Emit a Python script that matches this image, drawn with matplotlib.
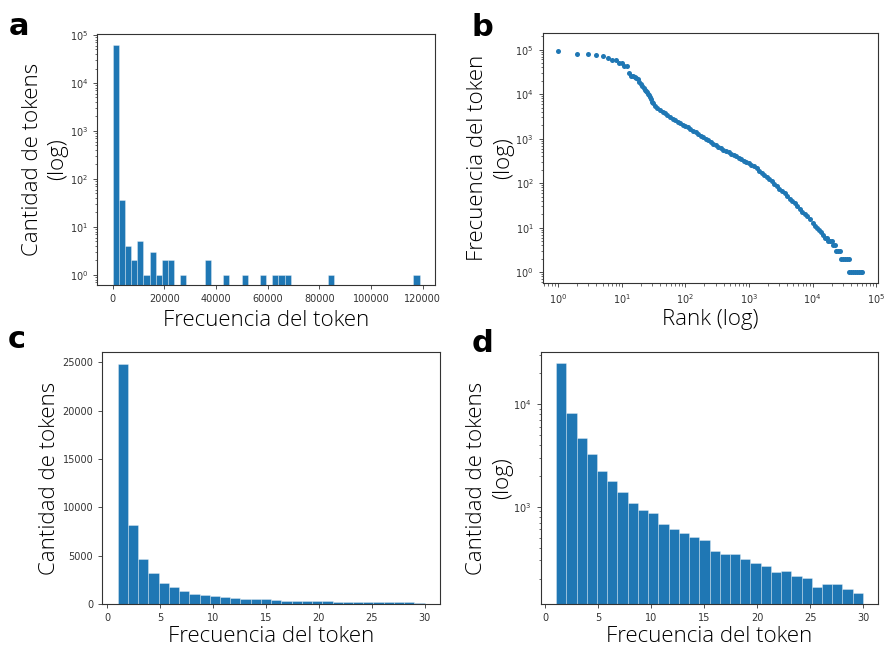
import numpy as np
import matplotlib
matplotlib.use("Agg")
import matplotlib.pyplot as plt

# ----
# Data
# ----
# a: histogram of token frequencies (50 bins between 1 and ~118850), log counts
hist_a_lo = 1
hist_a_hi = 118850
hist_a_counts = [62000, 36, 4, 2, 5, 1, 3, 1, 2, 2,
                 0, 1, 0, 0, 0, 2, 0, 0, 1, 0,
                 0, 1, 0, 0, 1, 0, 1, 1, 1, 0,
                 0, 0, 0, 0, 0, 1, 0, 0, 0, 0,
                 0, 0, 0, 0, 0, 0, 0, 0, 0, 1]

# b: rank / frequency (log-log)
rank = [1, 2, 3, 4, 5, 6, 7, 8, 9, 10,
        11, 12, 13, 14, 15, 16, 17, 18, 19, 20,
        21, 22, 23, 24, 25, 26, 27, 28, 29, 30,
        31, 33, 36, 40, 44, 48, 52, 58, 63, 69,
        76, 83, 91, 100, 110, 120, 132, 145, 158, 174,
        191, 209, 229, 251, 275, 302, 331, 363, 398, 437,
        479, 525, 575, 631, 692, 759, 832, 912, 1000, 1096,
        1202, 1318, 1445, 1585, 1738, 1905, 2089, 2291, 2512, 2754,
        3020, 3311, 3631, 3981, 4365, 4786, 5248, 5754, 6310, 6918,
        7586, 8318, 9120, 10000, 10965, 11750, 12590, 13490, 14450, 15490,
        16600, 17780, 19050, 20420, 21380, 22390, 23440, 25120, 26920, 28180,
        30200, 32360, 34670, 37150, 38000, 40740, 43650, 46770, 50120, 53700,
        57540, 59000]
freq = [93000, 79000, 79000, 74000, 71000, 66000, 59000, 59000, 51000, 51000,
        43000, 42000, 30000, 26000, 25000, 24000, 23000, 22000, 19000, 17000,
        15000, 13500, 12500, 11800, 11200, 10000, 9400, 8700, 7600, 6700,
        6200, 5400, 4900, 4450, 4070, 3720, 3310, 3020, 2720, 2570,
        2370, 2210, 2070, 1930, 1780, 1620, 1500, 1380, 1260, 1160,
        1070, 980, 910, 830, 775, 715, 660, 615, 570, 530,
        495, 460, 430, 400, 373, 347, 321, 298, 277, 257,
        239, 215, 192, 172, 153, 137, 122, 109, 96, 85,
        75, 66, 59, 52, 45, 40, 35, 30, 26, 23,
        20, 18, 16, 13, 11, 10, 9, 8, 7, 6,
        6, 5, 5, 5, 4, 4, 3, 3, 3, 2,
        2, 2, 2, 2, 1, 1, 1, 1, 1, 1,
        1, 1]

# c / d: histogram of frequencies 1..30 (30 bins)
hist_cd_lo = 1
hist_cd_hi = 30
hist_cd_counts = [24850, 8180, 4670, 3240, 2210, 1766, 1380, 1086, 935, 861,
                  677, 606, 550, 502, 470, 370, 343, 343, 312, 281,
                  264, 229, 236, 213, 203, 166, 175, 177, 159, 145]

BLUE = '#1f77b4'
LABEL_FONT = ['Open Sans', 'DejaVu Sans']
LABEL_SIZE = 16


def style(ax):
    ax.tick_params(labelsize=7, colors='#333333', length=3, width=0.6)
    ax.tick_params(which='minor', length=1.8, width=0.5, colors='#333333')
    for sp in ax.spines.values():
        sp.set_linewidth(0.8)
        sp.set_color('#333333')


def hist_bars(ax, lo, hi, counts, log):
    n = len(counts)
    edges = np.linspace(lo, hi, n + 1)
    centers = (edges[:-1] + edges[1:]) / 2
    ax.hist(centers, bins=edges, weights=counts, log=log, color=BLUE,
            edgecolor=(1, 1, 1, 0.45), linewidth=0.5)


def label_kw():
    return dict(family=LABEL_FONT, fontsize=LABEL_SIZE, fontweight='light')


fig = plt.figure(figsize=(8.85, 6.46), dpi=100)
W, H = 885.0, 646.0


def add_axes(left, top, right, bottom):
    return fig.add_axes([left / W, 1 - bottom / H, (right - left) / W, (bottom - top) / H])


ax_a = add_axes(97.3, 34, 435, 285)
ax_b = add_axes(542.7, 32.7, 878, 283.3)
ax_c = add_axes(102.3, 352.3, 440, 604)
ax_d = add_axes(540.7, 352.3, 878.3, 604)

# ---- a
hist_bars(ax_a, hist_a_lo, hist_a_hi, hist_a_counts, log=True)
ax_a.set_xlim(-5950, 124800)
ax_a.set_ylim(10 ** -0.21, 10 ** 5.02)
ax_a.set_xticks([0, 20000, 40000, 60000, 80000, 100000, 120000])
ax_a.set_xlabel('Frecuencia del token', labelpad=4, **label_kw())
ax_a.set_ylabel('Cantidad de tokens\n(log)', labelpad=1, linespacing=1.3, **label_kw())
style(ax_a)

# ---- b
ax_b.scatter(rank, freq, s=13, color=BLUE, linewidths=0)
ax_b.set_xscale('log')
ax_b.set_yscale('log')
ax_b.set_xlim(10 ** -0.243, 10 ** 5.03)
ax_b.set_ylim(10 ** -0.25, 10 ** 5.38)
ax_b.set_xlabel('Rank (log)', labelpad=2, **label_kw())
ax_b.set_ylabel('Frecuencia del token\n(log)', labelpad=1, linespacing=1.3, **label_kw())
style(ax_b)

# ---- c
hist_bars(ax_c, hist_cd_lo, hist_cd_hi, hist_cd_counts, log=False)
ax_c.set_xlim(-0.45, 31.45)
ax_c.set_ylim(0, 26040)
ax_c.set_xlabel('Frecuencia del token', labelpad=2, **label_kw())
ax_c.set_ylabel('Cantidad de tokens', labelpad=2, **label_kw())
style(ax_c)

# ---- d
hist_bars(ax_d, hist_cd_lo, hist_cd_hi, hist_cd_counts, log=True)
ax_d.set_xlim(-0.45, 31.45)
ax_d.set_ylim(113, 31800)
ax_d.set_xlabel('Frecuencia del token', labelpad=2, **label_kw())
ax_d.set_ylabel('Cantidad de tokens\n(log)', labelpad=0, linespacing=1.3, **label_kw())
style(ax_d)

# ---- panel letters
for letter, x, y in [('a', 9, 35), ('b', 472, 36), ('c', 8, 348), ('d', 472, 352)]:
    fig.text(x / W, 1 - y / H, letter, fontsize=22, fontweight='bold',
             va='baseline', ha='left', family='DejaVu Sans')

fig.savefig('out.png', dpi=100)
